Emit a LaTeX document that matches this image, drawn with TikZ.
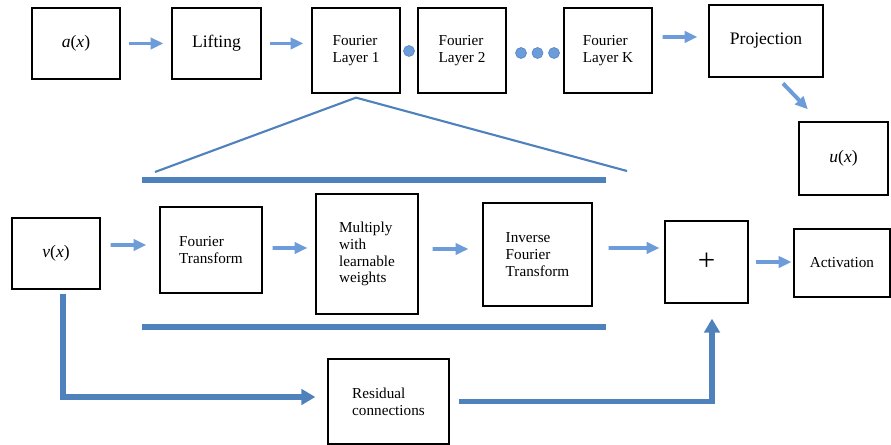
\documentclass[tikz,border=0pt]{standalone}
\usepackage{fontspec}
\setmainfont{Liberation Serif}
\usepackage{tikz}
\usetikzlibrary{arrows.meta, positioning}
\definecolor{lineblue}{RGB}{79,129,189}
\definecolor{arrowblue}{RGB}{108,157,218}
\newcommand{\mvar}[1]{\textit{#1}}
\tikzstyle{box} = [rectangle, draw=black, line width=0.9pt, align=left, inner sep=2pt, font=\rmfamily\fontsize{10.8}{12}\selectfont]
\tikzstyle{bigbox} = [box, font=\rmfamily\fontsize{12.5}{14}\selectfont]
\tikzstyle{dot} = [circle, draw=lineblue, fill=arrowblue, minimum size=0.275cm, inner sep=0pt]
\tikzstyle{arrow} = [line width=2.8pt, draw=arrowblue, -{Triangle[length=9pt,width=8pt]}, shorten <=0.2cm, shorten >=0.2cm]
\tikzstyle{resarrow} = [line width=3.6pt, draw=lineblue, -{Triangle[length=10pt,width=11pt]}]
\tikzstyle{bar} = [line width=4.3pt, draw=lineblue]
\tikzstyle{fan} = [line width=1.5pt, draw=lineblue]

\begin{document}
\begin{tikzpicture}[x=0.025cm, y=-0.025cm]
    \useasboundingbox (0,0) rectangle (891,445);
    \node (ax) [bigbox, minimum width=2.2cm, minimum height=1.775cm] at (76,43.5) {\mvar{a}(\mvar{x})};
    \node (lift) [bigbox, minimum width=2.225cm, minimum height=1.775cm] at (216.5,43.5) {Lifting};
    \node (fl1) [box, minimum width=2.2cm, minimum height=2.125cm] at (356,50.5) {Fourier\\Layer 1};
    \node (fl2) [box, minimum width=2.2cm, minimum height=2.125cm] at (462,50.5) {Fourier\\Layer 2};
    \node (flk) [box, minimum width=2.2cm, minimum height=2.125cm] at (608,50.5) {Fourier\\Layer K};
    \node (proj) [bigbox, minimum width=2.85cm, minimum height=1.8cm] at (766,41) {Projection};
    \node (ux) [bigbox, line width=1.6pt, minimum width=2.225cm, minimum height=1.825cm] at (843.5,158.5) {\mvar{u}(\mvar{x})};
    \node (d1) [dot] at (409,51) {};
    \node (d2) [dot] at (521,53) {};
    \node (d3) [dot] at (537.5,53) {};
    \node (d4) [dot] at (554,53) {};
    \node (vx) [bigbox, minimum width=2.2cm, minimum height=1.775cm] at (56,253.5) {\mvar{v}(\mvar{x})};
    \node (ft) [box, minimum width=2.55cm, minimum height=2.15cm] at (211,250) {Fourier\\Transform};
    \node (mult) [box, minimum width=2.55cm, minimum height=3cm] at (367,254) {Multiply\\with\\learnable\\weights};
    \node (ift) [box, minimum width=2.725cm, minimum height=2.575cm] at (537.5,254.5) {Inverse\\Fourier\\Transform};
    \node (plus) [box, font=\rmfamily\fontsize{22}{22}\selectfont, minimum width=2.075cm, minimum height=2.05cm] at (706.5,262) {+};
    \node (act) [box, minimum width=2.4cm, minimum height=1.7cm] at (842,263) {Activation};
    \node (res) [box, minimum width=3.025cm, minimum height=2.125cm] at (388.5,401.5) {Residual\\connections};
    \coordinate (tl) at (155,172);
    \coordinate (tr) at (627,171);
    \coordinate (b1) at (142,180);
    \coordinate (b2) at (606,180);
    \coordinate (b3) at (142,327);
    \coordinate (b4) at (606,327);
    \draw [fan] (tl) -- ([yshift=-0.1cm]fl1.south) -- (tr);
    \draw [bar] (b1) -- (b2);
    \draw [bar] (b3) -- (b4);
    \draw [arrow] (ax) -- (lift);
    \draw [arrow] (lift.east) -- (lift.east -| fl1.west);
    \draw [arrow, shorten <=0.25cm, shorten >=0.275cm] ([yshift=0.3375cm]flk.east) -- ([yshift=0.1cm]proj.west);
    \draw [arrow, shorten >=0.4cm] ([xshift=0.285cm]proj.south) -- ([xshift=-0.6125cm]ux.north);
    \draw [arrow, shorten <=0.25cm, shorten >=0.325cm] ([yshift=0.2125cm]vx.east) -- ([yshift=0.125cm]ft.west);
    \draw [arrow, shorten <=0.25cm] ([yshift=0.05cm]ft.east) -- ([yshift=0.15cm]mult.west);
    \draw [arrow, shorten <=0.35cm, shorten >=0.35cm] ([yshift=0.125cm]mult.east) -- ([yshift=0.1375cm]ift.west);
    \draw [arrow, shorten <=0.4cm, shorten >=0.125cm] ([yshift=0.1625cm]ift.east) -- ([yshift=0.35cm]plus.west);
    \draw [arrow, shorten <=0.175cm, shorten >=0.05cm] (plus.east) -- (plus.east -| act.west);
    \draw [resarrow, shorten <=0.1cm, shorten >=0.3cm] ([xshift=0.175cm]vx.south) |- ([yshift=0.1125cm]res.west);
    \draw [resarrow, shorten <=0.225cm, shorten >=0.375cm] (res.east) -| ([xshift=0.1375cm]plus.south);
\end{tikzpicture}
\end{document}
